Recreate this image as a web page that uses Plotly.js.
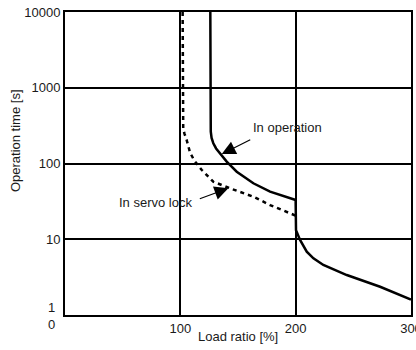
<!DOCTYPE html>
<html>
<head>
<meta charset="utf-8">
<script src="https://cdn.plot.ly/plotly-3.0.1.min.js"></script>
<style>html,body{margin:0;padding:0;background:#fff;}#chart{width:416px;height:350px;}</style>
</head>
<body>
<div id="chart"></div>
<script>
// In operation (solid)
var opX = [126, 126, 126.4, 127.1, 128.6, 131, 134.4, 140.2, 148.9, 163.3, 177.8, 190, 198, 200, 200, 200.3, 203.8, 209.6, 215.4, 224, 244.3, 273.2, 300];
var opY = [10000, 400, 263, 217, 185, 158, 136, 106, 78, 54.8, 42.5, 37, 33.7, 33, 30, 13.2, 9.8, 6.85, 5.6, 4.57, 3.37, 2.36, 1.6];
// In servo lock (dotted)
var slX = [102, 102, 102.5, 103.5, 105.5, 108.4, 112, 118.6, 128.6, 143.1, 163.3, 177.8, 195.1, 200];
var slY = [10000, 400, 290, 250, 204, 140, 110, 82, 57.5, 47, 36.5, 28.3, 22, 20.5];

var xTickVals = [100, 200, 300];
var yTickVals = [10, 100, 1000, 10000];
var xTitle = 'Load ratio [%]';
var yTitle = 'Operation time [s]';
var opLabel = 'In operation';
var slLabel = 'In servo lock';

var FONT = 'Arial, "Liberation Sans", sans-serif';
var TXT = '#1a1a1a';

var traces = [
  {x: opX, y: opY, mode: 'lines', type: 'scatter', line: {color: '#000', width: 2.5}, hoverinfo: 'skip'},
  {x: slX, y: slY, mode: 'lines', type: 'scatter', line: {color: '#000', width: 2.5, dash: '4px,4px'}, hoverinfo: 'skip'}
];

var layout = {
  width: 416, height: 350,
  margin: {l: 65, r: 5, t: 12, b: 35},
  paper_bgcolor: '#fff', plot_bgcolor: '#fff',
  showlegend: false,
  font: {family: FONT, size: 13, color: TXT},
  xaxis: {
    range: [0, 300], tickvals: xTickVals, ticktext: xTickVals.map(String),
    showgrid: true, gridcolor: '#000', gridwidth: 2,
    showline: true, linecolor: '#000', linewidth: 2, mirror: true,
    zeroline: false, ticks: '', ticklabeloverflow: 'allow',
    tickfont: {family: FONT, size: 13, color: TXT}
  },
  yaxis: {
    type: 'log', range: [0, 4], tickvals: yTickVals, ticktext: yTickVals.map(String),
    showgrid: true, gridcolor: '#000', gridwidth: 2,
    showline: true, linecolor: '#000', linewidth: 2, mirror: true,
    zeroline: false, ticks: '', ticklabeloverflow: 'allow',
    tickfont: {family: FONT, size: 13, color: TXT}
  },
  annotations: [
    {xref: 'paper', yref: 'paper', x: 0.5, y: -0.072, text: xTitle, showarrow: false, xanchor: 'center', yanchor: 'middle', font: {size: 13}},
    {xref: 'paper', yref: 'paper', x: -0.1445, y: 0.574, text: yTitle, textangle: -90, showarrow: false, xanchor: 'center', yanchor: 'middle', font: {size: 13}},
    {xref: 'paper', yref: 'paper', x: -0.0376, y: -0.033, text: '0', showarrow: false, xanchor: 'center', yanchor: 'middle', font: {size: 13}},
    {xref: 'paper', yref: 'paper', x: -0.0231, y: 0.0264, text: '1', showarrow: false, xanchor: 'right', yanchor: 'middle', font: {size: 13}},
    {xref: 'x', yref: 'y', x: 161.3, y: 2.469, text: opLabel, showarrow: false, xanchor: 'left', yanchor: 'middle', font: {size: 13}},
    {xref: 'x', yref: 'y', x: 111.9, y: 1.482, text: slLabel, showarrow: false, xanchor: 'right', yanchor: 'middle', font: {size: 13}},
    {xref: 'x', yref: 'y', x: 135.9, y: 2.125, text: '', showarrow: true, ax: 30, ay: -15, arrowhead: 2, arrowsize: 2.3, arrowwidth: 1.2, arrowcolor: '#000'},
    {xref: 'x', yref: 'y', x: 141.6, y: 1.673, text: '', showarrow: true, ax: -30, ay: 11, arrowhead: 2, arrowsize: 2.3, arrowwidth: 1.2, arrowcolor: '#000'}
  ]
};

Plotly.newPlot('chart', traces, layout, {staticPlot: true, displayModeBar: false});
</script>
</body>
</html>
